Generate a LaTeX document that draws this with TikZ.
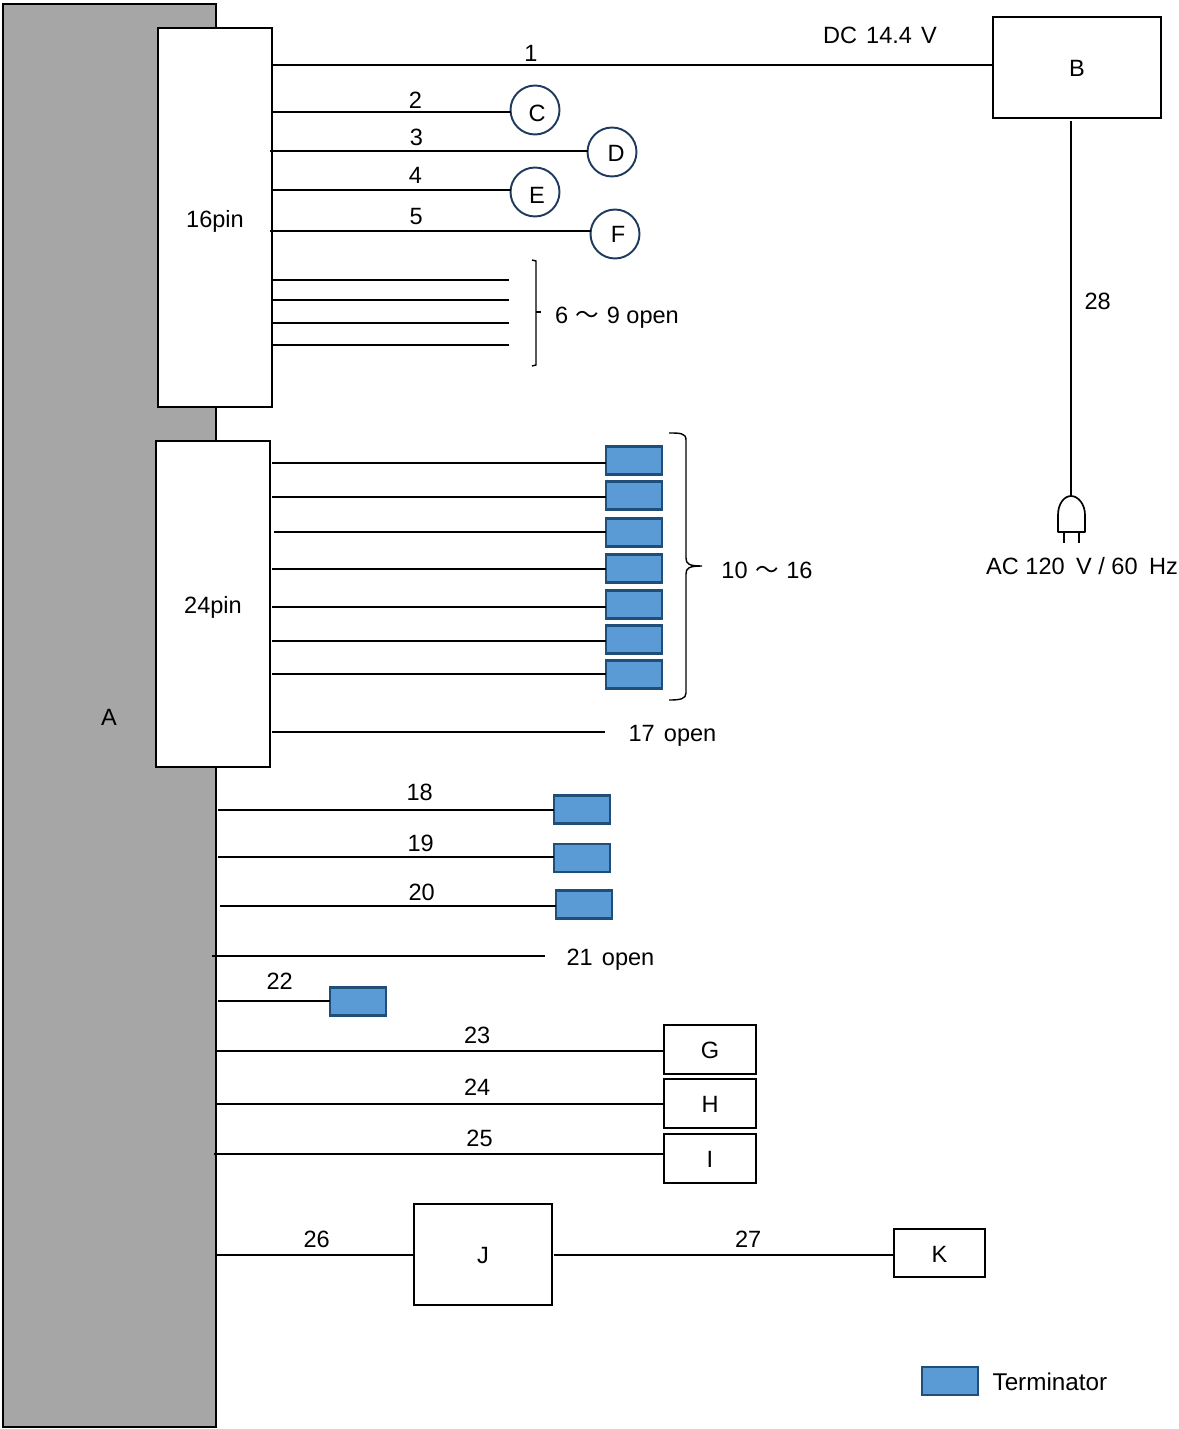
\documentclass[tikz,border=0pt]{standalone}
\usepackage{fontspec}
\setmainfont{Liberation Sans}
\newfontfamily\cjk{Noto Sans CJK JP}
\usepackage{tikz}
\usetikzlibrary{positioning}
\newcommand{\wave}{\hspace{4.3pt}{\cjk ～}\hspace{4.3pt}}
\newcommand{\wide}{\hspace{5.2pt}}
\definecolor{termfill}{HTML}{5B9BD5}
\definecolor{termedge}{HTML}{1F4E79}
\definecolor{circedge}{HTML}{1F3A5F}
\tikzset{
    wire/.style={line width=0.95pt},
    bracket/.style={line width=0.8pt},
    tag/.style={inner sep=1pt,font=\fontsize{13.4}{16}\selectfont,text height=10.5pt,text depth=0pt},
    wiretag/.style={inner sep=1pt,font=\fontsize{13.4}{16}\selectfont,above=#1},
    wiretag/.default=1pt,
    block/.style={draw,line width=0.95pt,fill=white,inner sep=0pt,outer sep=0pt,font=\fontsize{13.4}{16}\selectfont,text height=10.5pt,text depth=0pt},
    port/.style={draw=circedge,circle,line width=1.1pt,fill=white,inner sep=0pt,outer sep=0pt,minimum size=0.98cm},
    term/.style={draw=termedge,fill=termfill,line width=1.3pt,inner sep=0pt,outer sep=0pt,minimum width=1.12cm,minimum height=0.56cm}
}
\begin{document}
\begin{tikzpicture}[x=0.02cm,y=-0.02cm]
            \useasboundingbox (0,0) rectangle (1179,1429);
            \node [block,fill=black!35,minimum width=4.26cm,minimum height=28.46cm] (A) at (109.5,715.5) {};
            \node [tag] (labelA) at (109,716) {A};
            \node [block,minimum width=2.28cm,minimum height=7.58cm] (pinA) at (215,217.5) {};
            \node [tag] (labelPinA) at (215,218) {16pin};
            \node [block,minimum width=2.28cm,minimum height=6.52cm] (pinB) at (213,604) {};
            \node [tag] (labelPinB) at (213,604) {24pin};
            \node [block,minimum width=3.36cm,minimum height=2.02cm] (B) at (1077,67.5) {B};

            \node [port] (C) at (535,110) {};
            \node [port] (D) at (612,152) {};
            \node [port] (E) at (535,192) {};
            \node [port] (F) at (615,234) {};
            \node [tag] (labelC) at (537,112) {C};
            \node [tag] (labelD) at (616,152) {D};
            \node [tag] (labelE) at (537,194) {E};
            \node [tag] (labelF) at (618,233) {F};

            \node [term] (t10) at (634,460.5) {};
            \node [term,below=0.14cm of t10] (t11) {};
            \node [term,below=0.18cm of t11] (t12) {};
            \node [term,below=0.16cm of t12] (t13) {};
            \node [term,below=0.16cm of t13] (t14) {};
            \node [term,below=0.14cm of t14] (t15) {};
            \node [term,below=0.14cm of t15] (t16) {};
            \node [term] (t18) at (582,809.5) {};
            \node [term] (t19) at (582,858) {};
            \node [term] (t20) at (584,904.5) {};
            \node [term] (t22) at (358,1001.5) {};
            \node [term] (legend) at (950,1381) {};
            \node [tag,right=0.25cm of legend,font=\fontsize{13.8}{16}\selectfont] (legendtext) {Terminator};

            \node [block,minimum width=1.84cm,minimum height=0.98cm] (G) at (710,1049.5) {G};
            \node [block,minimum width=1.84cm,minimum height=0.98cm,below=0.1cm of G] (H) {H};
            \node [block,minimum width=1.84cm,minimum height=0.98cm,below=0.12cm of H] (I) {I};
            \node [block,minimum width=2.76cm,minimum height=2.02cm] (J) at (483,1254.5) {J};
            \node [block,minimum width=1.82cm,minimum height=0.96cm] (K) at (939.5,1253) {K};

            \coordinate (w1) at (272,65);
            \coordinate (w2) at (273,112);
            \coordinate (w3) at (270,151);
            \coordinate (w4) at (273,190);
            \coordinate (w5) at (270,231);
            \coordinate (w6) at (272,280);
            \coordinate (w7) at (272,300);
            \coordinate (w8) at (272,323);
            \coordinate (w9) at (272,345);
            \coordinate (e6) at (509,280);
            \coordinate (e7) at (509,300);
            \coordinate (e8) at (509,323);
            \coordinate (e9) at (509,345);
            \coordinate (w10) at (272,463);
            \coordinate (w11) at (272,497);
            \coordinate (w12) at (274,532);
            \coordinate (w13) at (272,569);
            \coordinate (w14) at (272,607);
            \coordinate (w15) at (272,641);
            \coordinate (w16) at (272,674);
            \coordinate (w17) at (272,732);
            \coordinate (e17) at (605,732);
            \coordinate (w18) at (218,810);
            \coordinate (w19) at (218,857);
            \coordinate (w20) at (220,906);
            \coordinate (w21) at (212,956);
            \coordinate (e21) at (545,956);
            \coordinate (w22) at (218,1001);
            \coordinate (w23) at (216,1051);
            \coordinate (w24) at (216,1104);
            \coordinate (w25) at (214,1154);
            \coordinate (w26) at (216,1255);
            \coordinate (w27) at (554,1255);
            \coordinate (w28) at (1071,121);
            \coordinate (plug) at (1071,496);

            \draw [wire] (w1) -- node [wiretag=0.5pt,pos=0.359] (n1) {1} (w1 -| B.west);
            \draw [wire] (w2) -- node [wiretag=0.5pt,pos=0.6] (n2) {2} (w2 -| C.west);
            \draw [wire] (w3) -- node [wiretag=1.5pt,pos=0.461] (n3) {3} (w3 -| D.west);
            \draw [wire] (w4) -- node [wiretag=2pt,pos=0.6] (n4) {4} (w4 -| E.west);
            \draw [wire] (w5) -- node [wiretag=2pt,pos=0.456] (n5) {5} (w5 -| F.west);
            \draw [wire] (w6) -- (e6);
            \draw [wire] (w7) -- (e7);
            \draw [wire] (w8) -- (e8);
            \draw [wire] (w9) -- (e9);
            \draw [wire] (w10) -- (w10 -| t10.west);
            \draw [wire] (w11) -- (w11 -| t11.west);
            \draw [wire] (w12) -- (w12 -| t12.west);
            \draw [wire] (w13) -- (w13 -| t13.west);
            \draw [wire] (w14) -- (w14 -| t14.west);
            \draw [wire] (w15) -- (w15 -| t15.west);
            \draw [wire] (w16) -- (w16 -| t16.west);
            \draw [wire] (w17) -- (e17) node [tag,right=0.42cm] (open17) {17\wide open};
            \draw [wire] (w18) -- node [wiretag=4pt,pos=0.6] (n18) {18} (w18 -| t18.west);
            \draw [wire] (w19) -- node [wiretag=1.5pt,pos=0.603] (n19) {19} (w19 -| t19.west);
            \draw [wire] (w20) -- node [wiretag=1.5pt,pos=0.6] (n20) {20} (w20 -| t20.west);
            \draw [wire] (w21) -- (e21) node [tag,right=0.38cm] (open21) {21\wide open};
            \draw [wire] (w22) -- node [wiretag=5pt,pos=0.55] (n22) {22} (w22 -| t22.west);
            \draw [wire] (w23) -- node [wiretag=2.7pt,pos=0.583] (n23) {23} (w23 -| G.west);
            \draw [wire] (w24) -- node [wiretag=3.3pt,pos=0.583] (n24) {24} (w24 -| H.west);
            \draw [wire] (w25) -- node [wiretag=2.7pt,pos=0.59] (n25) {25} (w25 -| I.west);
            \draw [wire] (w26) -- node [wiretag=2.7pt,pos=0.508] (n26) {26} (w26 -| J.west);
            \draw [wire] (w27) -- node [wiretag=2.7pt,pos=0.571] (n27) {27} (w27 -| K.west);
            \draw [wire] (w28) -- node [tag,right=0.22cm,pos=0.477] (n28) {28} (plug);

            \draw [bracket] (532,260) -- (536,261) -- (536,365) -- (532,366);
            \draw [bracket] (536,312) -- (541,312);
            \node [tag,anchor=west] (open6) at (553,314) {6\wave 9 open};
            \draw [bracket] (669,433) .. controls (680,433) and (686,433) .. (686,440) -- (686,558) .. controls (686,564) and (689,566) .. (702,566) .. controls (689,566) and (686,568) .. (686,574) -- (686,693) .. controls (686,699) and (680,700) .. (669,700);
            \node [tag] (range10) at (767,569) {10\wave 16};

            \draw [wire,line join=round] (1058,532) -- (1058,515) .. controls (1058,504) and (1064,496) .. (plug) .. controls (1078,496) and (1085,504) .. (1085,515) -- (1085,532) -- cycle;
            \draw [wire] (1064,532) -- (1064,543);
            \draw [wire] (1079,532) -- (1079,543);
            \node [tag] (mains) at (1082,565.5) {AC 120\hspace{6.5pt}V / 60\hspace{6.5pt}Hz};
            \node [tag] (dc) at (880,34) {DC\wide 14.4\wide V};
        \end{tikzpicture}
\end{document}
